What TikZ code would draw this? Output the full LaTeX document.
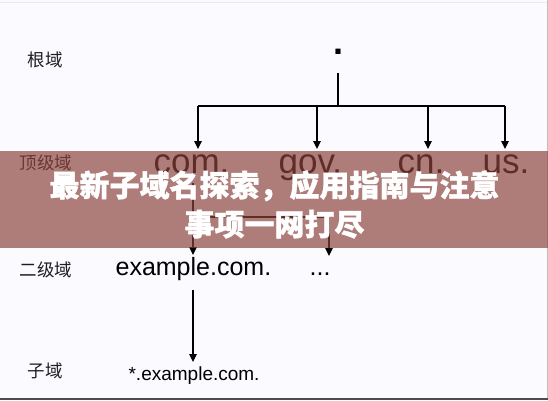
\documentclass[tikz,border=0pt]{standalone}
\usepackage{fontspec}
\setmainfont{Liberation Sans}
\newfontfamily\cjk{Noto Sans CJK SC}
\newfontfamily\cjkt[BoldFeatures={FakeBold=1.2}]{Noto Sans CJK SC}
\usetikzlibrary{arrows.meta}
\definecolor{bandc}{RGB}{139,67,59}
\definecolor{labc}{RGB}{30,30,30}
\begin{document}
\begin{tikzpicture}[x=1pt,y=-1pt,
  line width=1.2pt,
  arr/.style={-{Triangle[length=8pt,width=7.5pt]}},
  lab/.style={font=\cjk\fontsize{17.5}{17.5}\selectfont, text=labc, inner sep=0},
  tld/.style={font=\fontsize{35}{35}\selectfont, anchor=base west, inner sep=0},
  sld/.style={font=\fontsize{25}{25}\selectfont, anchor=base west, inner sep=0},
  subd/.style={font=\fontsize{19}{19}\selectfont, anchor=base west, inner sep=0}]
\useasboundingbox (0,0) rectangle (548,400);
\fill[white!98!blue] (0,0) rectangle (548,400);
% frame
\draw[line width=0.8pt, black!8] (0,2.5) -- (548,2.5);
\draw[line width=0.8pt, black!25] (547.2,0) -- (547.2,400);
\draw[line width=2pt, black!70] (0,399) -- (548,399);
% level labels
\node[lab] (lroot) at (45,60) {根域};
\node[lab] (ltld) at (46,163) {顶级域};
\node[lab] (lsld) at (46,270) {二级域};
\node[lab] (lsub) at (45,371) {子域};
% root
\node[font=\bfseries\fontsize{36}{36}\selectfont, inner sep=0] (root) at (338,52) {.};
% TLDs
\node[tld] (com) at (153,173) {com.};
\node[tld] (gov) at (278,173) {gov.};
\node[tld] (cn) at (397,173) {cn.};
\node[tld] (us) at (482,173) {us.};
% second level
\node[sld] (ex) at (115,275) {example.com.};
\node[sld] (dots) at (309,275) {...};
% sub domain
\node[subd] (sub) at (128,380) {*.example.com.};
% level 1 connectors
\coordinate (s1) at (338,73);
\coordinate (j1) at (338,106);
\coordinate (h1a) at (198,106);
\coordinate (h1b) at (317,106);
\coordinate (h1c) at (428,106);
\coordinate (h1d) at (505,106);
\coordinate (t1a) at (198,149);
\coordinate (t1b) at (317,149);
\coordinate (t1c) at (428,149);
\coordinate (t1d) at (505,149);
\draw (s1) -- (j1);
\draw (h1a) -- (h1d);
\draw[arr] (h1a) -- (t1a);
\draw[arr] (h1b) -- (t1b);
\draw[arr] (h1c) -- (t1c);
\draw[arr] (h1d) -- (t1d);
% level 2 connectors
\coordinate (s2) at (193,183);
\coordinate (h2a) at (193,217);
\coordinate (h2b) at (329,217);
\coordinate (t2a) at (193,255);
\coordinate (t2b) at (329,256);
\draw (s2) -- (h2a) -- (h2b);
\draw[arr] (h2a) -- (t2a);
\draw[arr] (h2b) -- (t2b);
% level 3 connector
\coordinate (s3) at (193,290);
\coordinate (t3) at (193,362);
\draw[arr] (s3) -- (t3);
% overlay band
\fill[bandc, fill opacity=0.68] (0,151) rectangle (548,248);
\node[font=\cjkt\bfseries\fontsize{30}{39}\selectfont, text=white, align=center, inner sep=0] (title) at (274.5,204.5) {最新子域名探索，应用指南与注意\\事项一网打尽};
\end{tikzpicture}
\end{document}
